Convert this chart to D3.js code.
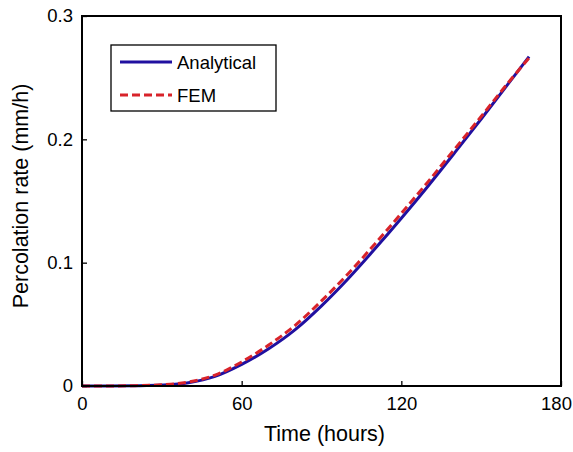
<!DOCTYPE html>
<html><head><meta charset="utf-8">
<script src="https://cdn.jsdelivr.net/npm/d3@7"></script>
<style>body{margin:0;background:#fff}svg{display:block}text{font-family:"Liberation Sans",Arial,sans-serif;fill:#000}</style>
</head><body><svg id="c" width="573" height="452"></svg>
<script>
const timeH = [0,10,20,30,40,50,60,70,80,90,100,110,120,130,140,150,160,168];
const analytical = [0,0,0.0002,0.0008,0.0027,0.0078,0.0175,0.030,0.0455,0.065,0.087,0.111,0.136,0.162,0.189,0.2165,0.2445,0.267];
const fem = [0,0,0.0003,0.001,0.0032,0.0088,0.0195,0.033,0.049,0.069,0.091,0.115,0.140,0.1655,0.192,0.2185,0.2455,0.266];
const xTicks = [0,60,120,180];
const yTicks = [0,0.1,0.2,0.3];
const yTickLabels = ["0","0.1","0.2","0.3"];
const seriesNames = ["Analytical","FEM"];

const L=82, R=561, T=16, B=386;
const svg=d3.select("#c");
const x=d3.scaleLinear().domain([0,180]).range([L,R]);
const y=d3.scaleLinear().domain([0,0.3]).range([B,T]);

const line=d3.line().x(d=>x(d[0])).y(d=>y(d[1])).curve(d3.curveMonotoneX);
svg.append("path").datum(timeH.map((t,i)=>[t,analytical[i]]))
  .attr("d",line).attr("fill","none").attr("stroke","#2010a0").attr("stroke-width",3);
svg.append("path").datum(timeH.map((t,i)=>[t,fem[i]]))
  .attr("d",line).attr("fill","none").attr("stroke","#d8232a").attr("stroke-width",3).attr("stroke-dasharray","8,4");

// axes (inner ticks)
const xa=svg.append("g").attr("transform",`translate(0,${B})`)
  .call(d3.axisBottom(x).tickValues(xTicks).tickSizeInner(-5).tickSizeOuter(0).tickPadding(11));
xa.select(".domain").remove();
xa.selectAll("line").attr("stroke","#000").attr("stroke-width",1.3);
xa.selectAll("text").style("font-size","18.5px").attr("dy","0.71em")
  .attr("dx",d=>d===180?"-5":"0");
const ya=svg.append("g").attr("transform",`translate(${L},0)`)
  .call(d3.axisLeft(y).tickValues(yTicks).tickFormat((d,i)=>yTickLabels[i]).tickSizeInner(-5).tickSizeOuter(0).tickPadding(9));
ya.select(".domain").remove();
ya.selectAll("line").attr("stroke","#000").attr("stroke-width",1.3);
ya.selectAll("text").style("font-size","18.5px");

svg.append("rect").attr("x",L).attr("y",T).attr("width",R-L).attr("height",B-T)
  .attr("fill","none").attr("stroke","#000").attr("stroke-width",2);

svg.append("text").attr("x",(L+R)/2+3).attr("y",441).attr("text-anchor","middle").style("font-size","21.5px").text("Time (hours)");
svg.append("text").attr("transform","translate(28,196) rotate(-90)").attr("text-anchor","middle").style("font-size","21.5px").text("Percolation rate (mm/h)");

// legend
const lg=svg.append("g");
lg.append("rect").attr("x",111).attr("y",45).attr("width",165).attr("height",66).attr("fill","#fff").attr("stroke","#000").attr("stroke-width",1.3);
const cols=["#2010a0","#d8232a"], dash=[null,"8,4"], ly=[62,95];
seriesNames.forEach((n,i)=>{
  lg.append("line").attr("x1",120).attr("x2",172).attr("y1",ly[i]).attr("y2",ly[i])
    .attr("stroke",cols[i]).attr("stroke-width",3).attr("stroke-dasharray",dash[i]);
  lg.append("text").attr("x",177).attr("y",ly[i]+7).style("font-size","18.5px").text(n);
});
</script></body></html>
